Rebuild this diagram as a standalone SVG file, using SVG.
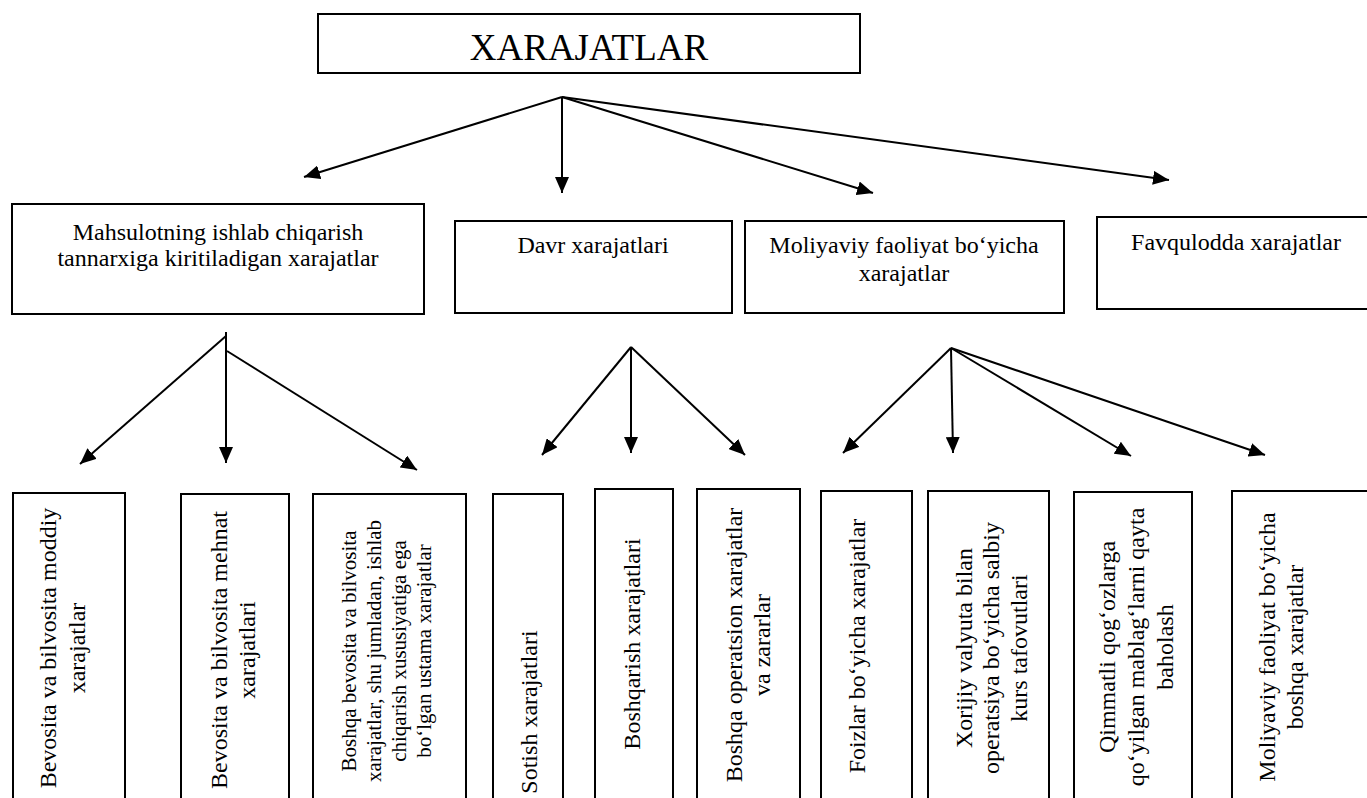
<svg xmlns="http://www.w3.org/2000/svg" width="1367" height="798" viewBox="0 0 1367 798">
<defs>
<style>
.box{fill:#fff;stroke:#000;stroke-width:2}
.t{font-family:"Liberation Serif","Times New Roman",serif;font-size:24px;fill:#000;text-anchor:middle}
.s{font-size:21px}
.c{stroke:#000;stroke-width:2;fill:none;marker-end:url(#ah)}
</style>
<marker id="ah" markerUnits="userSpaceOnUse" markerWidth="16" markerHeight="14" refX="16" refY="7" orient="auto">
<path d="M0,0 L16,7 L0,14 z" fill="#000"/>
</marker>
</defs>
<rect width="1367" height="798" fill="#fff"/>

<g id="root">
<rect class="box" x="318" y="14" width="542" height="59"/>
<text class="t" x="589" y="60" style="font-size:37px">XARAJATLAR</text>
</g>

<g id="n-mahsulot">
<rect class="box" x="12" y="204" width="412" height="110"/>
<text class="t" x="218" y="240">Mahsulotning ishlab chiqarish</text>
<text class="t" x="218" y="266">tannarxiga kiritiladigan xarajatlar</text>
</g>
<g id="n-davr">
<rect class="box" x="455" y="221" width="277" height="92"/>
<text class="t" x="593" y="253">Davr xarajatlari</text>
</g>
<g id="n-moliyaviy">
<rect class="box" x="745" y="221" width="319" height="92"/>
<text class="t" x="904" y="253">Moliyaviy faoliyat bo‘yicha</text>
<text class="t" x="904" y="281">xarajatlar</text>
</g>
<g id="n-favqulodda">
<rect class="box" x="1097" y="217" width="275" height="92"/>
<text class="t" x="1236" y="250">Favqulodda xarajatlar</text>
</g>

<g id="b1">
<rect class="box" x="13" y="493" width="112" height="320"/>
<text class="t" transform="translate(56,648) rotate(-90)"><tspan x="0" y="0">Bevosita va bilvosita moddiy</tspan><tspan x="0" y="29">xarajatlar</tspan></text>
</g>
<g id="b2">
<rect class="box" x="181" y="494" width="108" height="320"/>
<text class="t" transform="translate(227,650) rotate(-90)"><tspan x="0" y="0">Bevosita va bilvosita mehnat</tspan><tspan x="0" y="28">xarajatlari</tspan></text>
</g>
<g id="b3">
<rect class="box" x="313" y="494" width="153" height="320"/>
<text class="t s" transform="translate(356,651) rotate(-90)"><tspan x="0" y="0">Boshqa bevosita va bilvosita</tspan><tspan x="0" y="25">xarajatlar, shu jumladan, ishlab</tspan><tspan x="0" y="50">chiqarish xususiyatiga ega</tspan><tspan x="0" y="75">bo‘lgan ustama xarajatlar</tspan></text>
</g>
<g id="b4">
<rect class="box" x="493" y="494" width="70" height="320"/>
<text class="t" transform="translate(537,712) rotate(-90)">Sotish xarajatlari</text>
</g>
<g id="b5">
<rect class="box" x="595" y="489" width="78" height="325"/>
<text class="t" transform="translate(640,644) rotate(-90)">Boshqarish xarajatlari</text>
</g>
<g id="b6">
<rect class="box" x="697" y="489" width="103" height="325"/>
<text class="t" transform="translate(742,645) rotate(-90)"><tspan x="0" y="0">Boshqa operatsion xarajatlar</tspan><tspan x="0" y="28">va zararlar</tspan></text>
</g>
<g id="b7">
<rect class="box" x="821" y="491" width="91" height="323"/>
<text class="t" transform="translate(865,646) rotate(-90)">Foizlar bo‘yicha xarajatlar</text>
</g>
<g id="b8">
<rect class="box" x="928" y="491" width="121" height="323"/>
<text class="t" transform="translate(972,648) rotate(-90)"><tspan x="0" y="0">Xorijiy valyuta bilan</tspan><tspan x="0" y="27">operatsiya bo‘yicha salbiy</tspan><tspan x="0" y="55">kurs tafovutlari</tspan></text>
</g>
<g id="b9">
<rect class="box" x="1074" y="492" width="118" height="322"/>
<text class="t" transform="translate(1115,647) rotate(-90)"><tspan x="0" y="0">Qimmatli qog‘ozlarga</tspan><tspan x="0" y="29">qo‘yilgan mablag‘larni qayta</tspan><tspan x="0" y="58">baholash</tspan></text>
</g>
<g id="b10">
<rect class="box" x="1232" y="491" width="140" height="323"/>
<text class="t" transform="translate(1275,647) rotate(-90)"><tspan x="0" y="0">Moliyaviy faoliyat bo‘yicha</tspan><tspan x="0" y="28">boshqa xarajatlar</tspan></text>
</g>

<g id="connectors">
<line class="c" x1="562" y1="97" x2="304" y2="177"/>
<line class="c" x1="562" y1="97" x2="562" y2="193"/>
<line class="c" x1="562" y1="97" x2="873" y2="193"/>
<line class="c" x1="562" y1="97" x2="1169" y2="180"/>

<line x1="226" y1="332" x2="226" y2="352" stroke="#000" stroke-width="2"/>
<line class="c" x1="226" y1="336" x2="80" y2="464"/>
<line class="c" x1="226" y1="340" x2="226" y2="463"/>
<line class="c" x1="227" y1="351" x2="417" y2="470"/>

<line class="c" x1="631" y1="347" x2="542" y2="455"/>
<line class="c" x1="631" y1="347" x2="631" y2="453"/>
<line class="c" x1="631" y1="347" x2="745" y2="455"/>

<line class="c" x1="951" y1="348" x2="843" y2="453"/>
<line class="c" x1="951" y1="348" x2="953" y2="453"/>
<line class="c" x1="951" y1="348" x2="1131" y2="456"/>
<line class="c" x1="951" y1="348" x2="1265" y2="455"/>
</g>
</svg>
